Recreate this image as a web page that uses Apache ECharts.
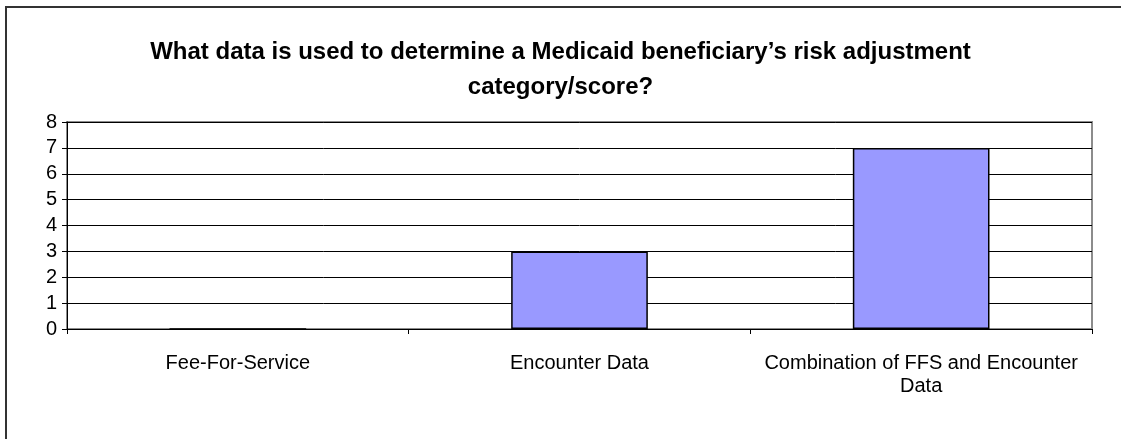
<!DOCTYPE html>
<html><head><meta charset="utf-8">
<script src="https://cdn.jsdelivr.net/npm/echarts@6/dist/echarts.min.js"></script>
<style>html,body{margin:0;padding:0;background:#fff}#c{width:1121px;height:439px}</style>
</head><body><div id="c"></div>
<script>
var titleText = "What data is used to determine a Medicaid beneficiary\u2019s risk adjustment\ncategory/score?";
var categories = ["Fee-For-Service", "Encounter Data", "Combination of FFS and Encounter\nData"];
var values = [0, 3, 7];
var yMin = 0, yMax = 8, yStep = 1;

var chart = echarts.init(document.getElementById('c'));
var font = '"Liberation Sans", Arial, sans-serif';
chart.setOption({
  animation: false,
  backgroundColor: '#fff',
  title: {
    text: titleText, left: 'center', top: 30,
    textStyle: { fontFamily: font, fontSize: 24, fontWeight: 'bold', color: '#000', lineHeight: 35 }
  },
  graphic: [{
    type: 'rect', shape: { x: 6, y: 7, width: 1140, height: 460 },
    style: { fill: 'none', stroke: '#333', lineWidth: 2 }, silent: true, z: 0
  }],
  grid: { left: 67, right: 29, top: 122, bottom: 110, show: true, borderColor: '#8c8c8c', borderWidth: 2, backgroundColor: '#fff' },
  xAxis: {
    type: 'category', data: categories,
    axisLine: { lineStyle: { color: '#000', width: 1 } },
    axisTick: { show: true, alignWithLabel: false, length: 5, lineStyle: { color: '#000' } },
    axisLabel: { interval: 0, fontFamily: font, fontSize: 20, color: '#000', margin: 23, lineHeight: 23 },
    splitLine: { show: false }
  },
  yAxis: {
    type: 'value', min: yMin, max: yMax, interval: yStep,
    axisLine: { show: true, lineStyle: { color: '#000', width: 1 } },
    axisTick: { show: true, length: 5, lineStyle: { color: '#000' } },
    axisLabel: { fontFamily: font, fontSize: 20, color: '#000', margin: 10 },
    splitLine: { show: true, lineStyle: { color: '#000', width: 1 } }
  },
  series: [{
    type: 'bar', data: values, barWidth: '40%',
    itemStyle: { color: '#9999FF', borderColor: '#000', borderWidth: 1.5 }
  }]
});
</script></body></html>
